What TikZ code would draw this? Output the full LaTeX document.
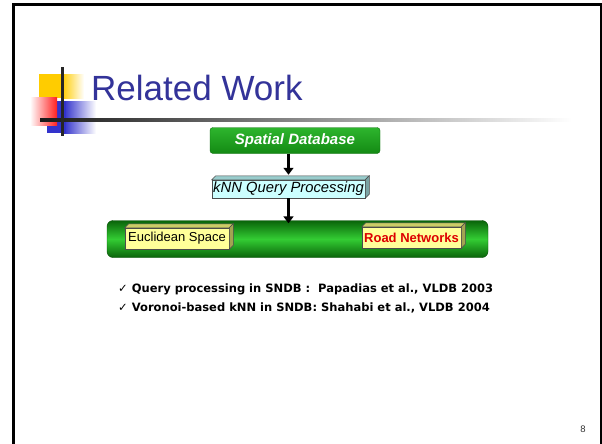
\documentclass[tikz,border=0pt]{standalone}
\usepackage{fontspec}
\setmainfont{Liberation Sans}
\newfontfamily\verd{DejaVu Sans}
\usetikzlibrary{arrows.meta,calc}
\definecolor{titleblue}{HTML}{333399}
\definecolor{gdark}{HTML}{0A640A}
\definecolor{gmid}{HTML}{33CC33}
\definecolor{gtop}{HTML}{2DB52D}
\definecolor{gbot}{HTML}{148A14}
\definecolor{cyanface}{HTML}{CCFFFF}
\definecolor{cyanside}{HTML}{99CCCC}
\definecolor{yface}{HTML}{FFFF99}
\definecolor{yside}{HTML}{CCCC66}
\definecolor{roadred}{HTML}{DD0000}
\definecolor{gold}{HTML}{FFCC00}
\definecolor{ornblue}{HTML}{3333CC}
\definecolor{ornred}{HTML}{FF2020}
\tikzset{
  dbbox/.style={rounded corners=3pt, top color=gtop, bottom color=gbot,
    draw=gbot!80!black, line width=0.4pt, minimum width=170pt, minimum height=26pt,
    inner sep=0pt, text=white, font=\fontsize{15}{17}\selectfont\bfseries\itshape},
  greenbar/.style={rounded corners=6pt, top color=gdark, bottom color=gdark,
    middle color=gmid, draw=gdark!80!black, line width=0.4pt,
    minimum width=381pt, minimum height=37pt, inner sep=0pt},
  facebox/.style={draw=black!70, line width=0.5pt, inner sep=0pt,
    font=\fontsize{13}{15}\selectfont},
  flowarrow/.style={line width=3pt, -{Triangle[width=10pt,length=7pt]}},
  bullet/.style={anchor=base west, inner sep=0pt,
    font=\verd\fontsize{11.5}{13}\selectfont\bfseries}
}
\newcommand{\sidefaces}[3]{%
  \filldraw[fill=#2, draw=black!70, line width=0.5pt]
    (#1.north west) -- ++(#3,-#3) -- ([shift={(#3,-#3)}]#1.north east) -- (#1.north east) -- cycle;
  \filldraw[fill=#2!80!black, draw=black!70, line width=0.5pt]
    (#1.north east) -- ++(#3,-#3) -- ([shift={(#3,-#3)}]#1.south east) -- (#1.south east) -- cycle;
}
\begin{document}
\begin{tikzpicture}[x=1pt,y=-1pt]
\useasboundingbox (0,0) rectangle (602,444);
\fill[white] (0,0) rectangle (602,444);

% slide frame
\draw[line width=3pt] (13.5,446) -- (13.5,4.5) -- (602,4.5);
\draw[line width=2pt] (601,4.5) -- (601,446);

% title ornament
\shade[left color=gold, right color=white] (62,74) rectangle (84,98);
\fill[gold] (39,74) rectangle (62,98);
\shade[left color=ornblue, right color=white] (64,101) rectangle (96,133);
\fill[ornblue] (47,101) rectangle (66,133);
\shade[left color=white, right color=ornred] (30,97) rectangle (57,125);
\shade[left color=black!90, right color=white] (40,118) rectangle (572,121);
\fill[black!85] (60.5,67) rectangle (63.5,136);

\node[anchor=base west, inner sep=0pt, text=titleblue,
  font=\fontsize{35}{40}\selectfont] (title) at (91,100) {Related Work};

% flow
\node[dbbox] (sdb) at (295,140.5) {Spatial Database};
\node[facebox, fill=cyanface, minimum width=153pt, minimum height=18pt,
  font=\fontsize{14.8}{16}\selectfont\itshape] (knn) at (288.5,189) {kNN Query Processing};
\sidefaces{knn}{cyanside}{4}
\node[greenbar] (bar) at (297.5,239) {};
\node[facebox, fill=yface, minimum width=104pt, minimum height=21pt] (euc) at (177,238.5) {Euclidean Space};
\sidefaces{euc}{yside}{4}
\node[facebox, fill=yface, minimum width=99pt, minimum height=21pt, text=roadred,
  font=\fontsize{13}{15}\selectfont\bfseries] (road) at (411.5,237.5) {Road Networks};
\sidefaces{road}{yside}{4}

\draw[flowarrow] (sdb.south -| knn.north) -- ([yshift=5pt]knn.north);
\draw[flowarrow] (knn.south) -- ([yshift=-3pt]bar.north -| knn.south);

% references
\node[bullet] (r1) at (118,292) {{\mdseries ✓} Query processing in SNDB :\ \ Papadias et al., VLDB 2003};
\node[bullet] (r2) at (118,311) {{\mdseries ✓} Voronoi-based kNN in SNDB: Shahabi et al., VLDB 2004};

\node[anchor=base, inner sep=0pt, text=black!80, font=\fontsize{9.5}{10}\selectfont] (pg) at (583,432) {8};
\end{tikzpicture}
\end{document}
